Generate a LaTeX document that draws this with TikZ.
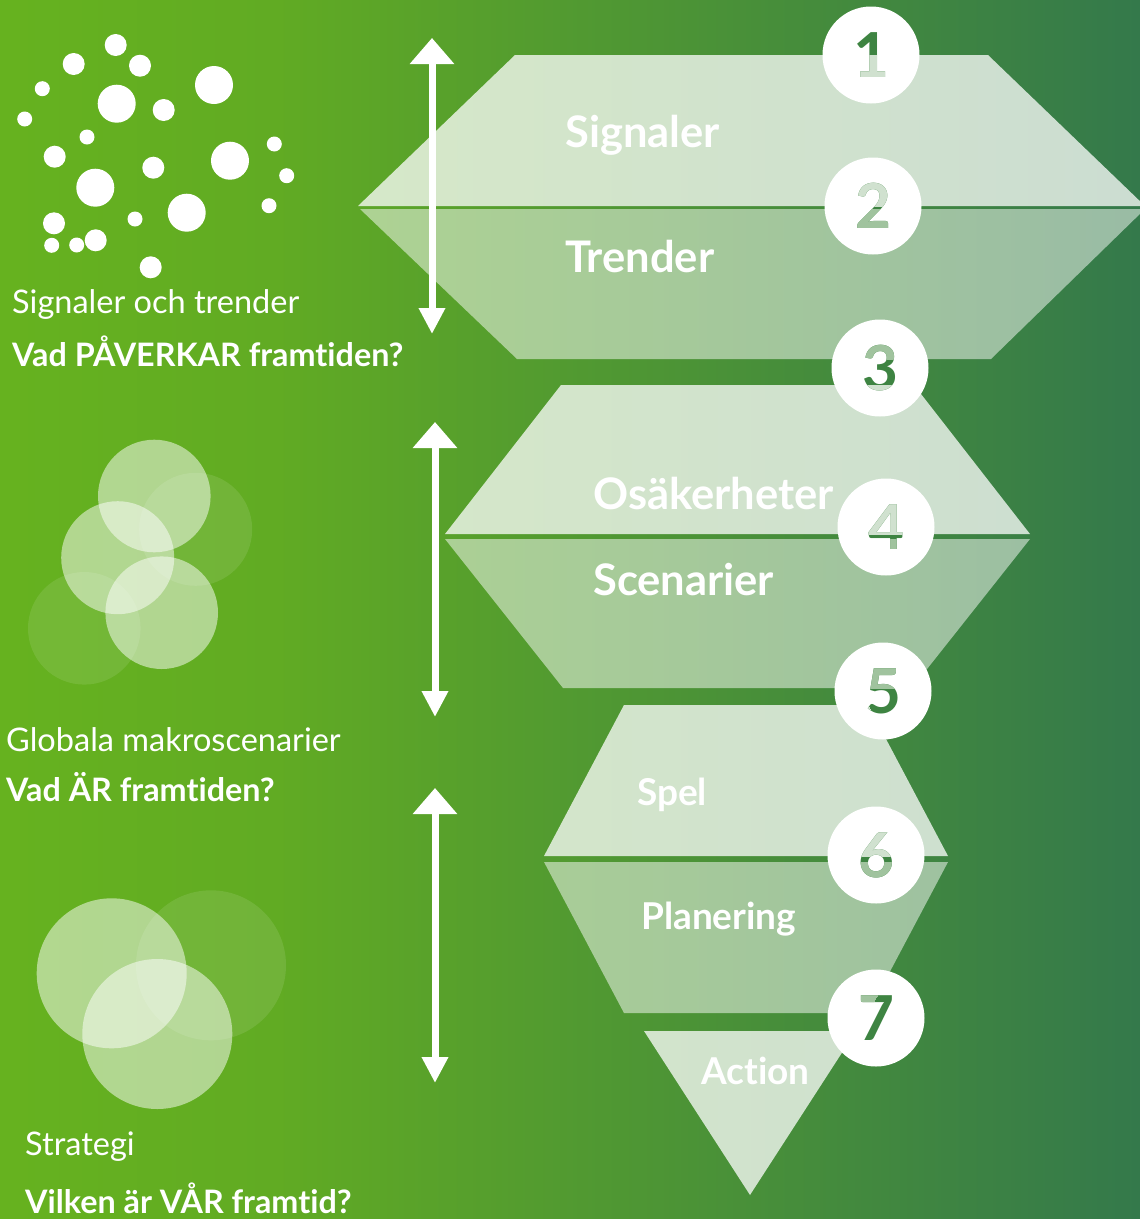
\documentclass[tikz,border=0pt]{standalone}
\usepackage{fontspec}
\setmainfont{Lato}[Ligatures=CommonOff]
\newfontfamily\condfont{Lato}[Ligatures=CommonOff]
\usetikzlibrary{arrows.meta}

\definecolor{bgleft}{RGB}{102,178,31}
\definecolor{bgmid}{RGB}{97,171,35}
\definecolor{bgright}{RGB}{52,121,75}
\definecolor{digdark}{RGB}{62,132,66}
\definecolor{diglight}{RGB}{208,225,207}
\definecolor{digmid}{RGB}{160,195,158}
\pgfdeclarehorizontalshading{bggrad}{100bp}{color(0bp)=(bgleft); color(25bp)=(bgleft); color(37bp)=(bgmid); color(75bp)=(bgright); color(100bp)=(bgright)}

\def\signalerpath{(515,55) -- (988,55) -- (1145,206) -- (358,206) -- cycle}
\def\trenderpath{(360,209) -- (1145,209) -- (991,359) -- (517,359) -- cycle}
\def\osakpath{(561,385) -- (914,385) -- (1030,534) -- (445,534) -- cycle}
\def\scenpath{(445,539) -- (1030,539) -- (912,688) -- (563,688) -- cycle}
\def\spelpath{(624,705) -- (868,705) -- (948,856) -- (544,856) -- cycle}
\def\planpath{(544,862) -- (948,862) -- (868,1013) -- (624,1013) -- cycle}
\def\actionpath{(644,1031) -- (856,1031) -- (750,1195) -- cycle}

\begin{document}
\begin{tikzpicture}[x=1pt,y=-1pt]
\tikzstyle{every node}+=[inner sep=0pt]
\tikzstyle{lighttxt}=[text=white, anchor=base west, font=\fontsize{32.5}{38}\selectfont]
\tikzstyle{boldtxt}=[text=white, anchor=base west, font=\fontsize{32.3}{38}\selectfont\bfseries]
\tikzstyle{stagebig}=[text=white, anchor=base west, font=\condfont\fontsize{43.5}{50}\selectfont\bfseries]
\tikzstyle{stagesmall}=[text=white, anchor=base west, font=\fontsize{37}{42}\selectfont\bfseries]
\tikzstyle{numdot}=[circle, fill=white, minimum size=97pt]
\tikzstyle{digit}=[font=\fontsize{62}{70}\selectfont\bfseries]
\tikzstyle{dblarrow}=[white, line width=7pt, {Triangle[width=43pt,length=26pt]}-{Triangle[width=25pt,length=26pt]}]
\useasboundingbox (0,0) rectangle (1140,1219);
\shade [shading=bggrad] (0,0) rectangle (1140,1219);
\fill [white] (115.7,45) circle (11pt);
\fill [white] (73.7,64) circle (11pt);
\fill [white] (140,65.7) circle (11pt);
\fill [white] (42.3,88.7) circle (7.5pt);
\fill [white] (116.7,103.7) circle (19pt);
\fill [white] (214,85) circle (19pt);
\fill [white] (163.7,110) circle (11pt);
\fill [white] (24.7,119) circle (7.5pt);
\fill [white] (87,137) circle (7.5pt);
\fill [white] (54.7,156.7) circle (11pt);
\fill [white] (230,160.7) circle (19pt);
\fill [white] (274.3,144) circle (7.5pt);
\fill [white] (153.3,167.7) circle (11pt);
\fill [white] (95.3,187.7) circle (19pt);
\fill [white] (286.7,175.7) circle (7.5pt);
\fill [white] (186.7,212.7) circle (19pt);
\fill [white] (269,205.7) circle (7.5pt);
\fill [white] (135,219) circle (7.5pt);
\fill [white] (54,223.3) circle (11pt);
\fill [white] (51.7,245.3) circle (7.5pt);
\fill [white] (76.7,245) circle (7.5pt);
\fill [white] (95.7,240.3) circle (11pt);
\fill [white] (150.7,267.3) circle (11pt);
\fill [white, fill opacity=0.5] (154.3,496) circle (56.3pt);
\fill [white, fill opacity=0.1] (195.7,529.3) circle (56.5pt);
\fill [white, fill opacity=0.5] (117.7,557.7) circle (56.5pt);
\fill [white, fill opacity=0.5] (161.7,612.7) circle (56.3pt);
\fill [white, fill opacity=0.1] (84.3,628.3) circle (56.3pt);
\fill [white, fill opacity=0.5] (111.7,973.3) circle (75pt);
\fill [white, fill opacity=0.1] (211,965.3) circle (75pt);
\fill [white, fill opacity=0.5] (157.3,1034) circle (75pt);
\fill [white, fill opacity=0.75] \signalerpath;
\fill [white, fill opacity=0.5] \trenderpath;
\fill [white, fill opacity=0.75] \osakpath;
\fill [white, fill opacity=0.5] \scenpath;
\fill [white, fill opacity=0.75] \spelpath;
\fill [white, fill opacity=0.5] \planpath;
\fill [white, fill opacity=0.75] \actionpath;
\coordinate (up1) at (432,38);
\coordinate (down1) at (432,334);
\coordinate (up2) at (435,422);
\coordinate (down2) at (435,717);
\coordinate (up3) at (435,788);
\coordinate (down3) at (435,1083);
\draw [dblarrow] (up1) -- (down1);
\draw [dblarrow] (up2) -- (down2);
\draw [dblarrow] (up3) -- (down3);
\draw (12,313) node [lighttxt] (signtrend) {Signaler och trender};
\draw (12,366) node [boldtxt] (paverkar) {Vad PÅVERKAR framtiden?};
\draw (6,751) node [lighttxt] (makro) {Globala makroscenarier};
\draw (6,801) node [boldtxt] (arfram) {Vad ÄR framtiden?};
\draw (25,1155) node [lighttxt] (strategi) {Strategi};
\draw (25,1213) node [boldtxt] (varfram) {Vilken är VÅR framtid?};
\draw (565,147) node [stagebig] (signaler) {Signaler};
\draw (565,272) node [stagebig] (trender) {Trender};
\draw (593,509) node [stagebig] (osak) {Osäkerheter};
\draw (593,595) node [stagebig] (scen) {Scenarier};
\draw (637,805) node [stagesmall] (spel) {Spel};
\draw (641,929) node [stagesmall] (plan) {Planering};
\draw (701,1084) node [stagesmall] (action) {Action};
\draw (871,55) node [numdot] (n1) {};
\draw (873,206) node [numdot] (n2) {};
\draw (880,368) node [numdot] (n3) {};
\draw (886,527) node [numdot] (n4) {};
\draw (883,691) node [numdot] (n5) {};
\draw (876,855) node [numdot] (n6) {};
\draw (876,1018) node [numdot] (n7) {};
\foreach \n in {1,...,7}
  \draw (n\n) node [digit, text=digdark] (d\n) {\n};
\begin{scope}
\clip \signalerpath \osakpath \spelpath \actionpath;
\foreach \n in {1,...,7}
  \draw (n\n) node [digit, text=diglight] (dl\n) {\n};
\end{scope}
\begin{scope}
\clip \trenderpath \scenpath \planpath;
\foreach \n in {1,...,7}
  \draw (n\n) node [digit, text=digmid] (dm\n) {\n};
\end{scope}
\end{tikzpicture}
\end{document}
